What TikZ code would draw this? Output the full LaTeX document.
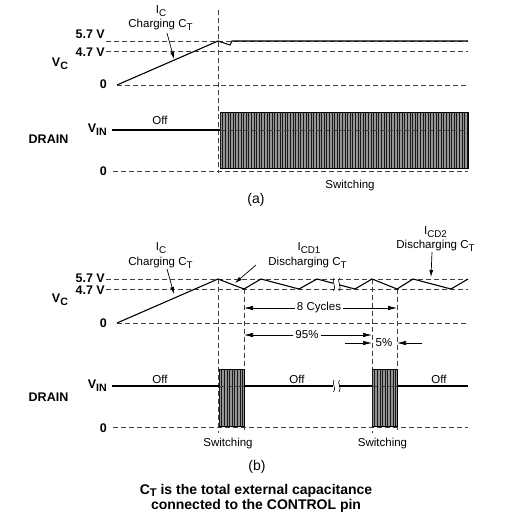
\documentclass[tikz,border=0pt]{standalone}
\usepackage{fontspec}
\setmainfont{Liberation Sans}
\usepackage{graphicx}
\usetikzlibrary{arrows.meta}
\newcommand{\lsub}[1]{\raisebox{-0.45ex}{\scalebox{0.85}{#1}}}
\newcommand{\csub}[1]{\raisebox{-0.3ex}{\scalebox{0.8}{#1}}}
\begin{document}
\begin{tikzpicture}[x=1pt,y=-1pt,
  lbl/.style={font=\fontsize{11.5}{13}\selectfont, inner sep=0pt},
  blbl/.style={font=\bfseries\fontsize{12.5}{14}\selectfont, inner sep=0pt},
  biglbl/.style={font=\fontsize{14}{15}\selectfont, inner sep=0pt},
  captlbl/.style={font=\bfseries\fontsize{14}{15}\selectfont, inner sep=0pt},
  dsh/.style={dash pattern=on 5pt off 3pt, line width=0.7pt, black!75},
  sig/.style={line width=1.1pt, black, line join=miter},
  arr/.style={-{Latex[length=7pt,width=4pt]}, line width=0.7pt},
  darr/.style={-{Latex[length=9pt,width=4.5pt]}, line width=0.7pt},
  brk/.style={line width=0.6pt},
  blk/.style={fill=black!42, draw=black, line width=0.5pt},
  vln/.style={line width=0.45pt, black!90}]
\useasboundingbox (0,0) rectangle (532,517);

% ================= (a) =================
\draw[dsh] (106,41) -- (468,41);
\draw[dsh] (106,51) -- (468,51);
\draw[dsh] (117,85) -- (468,85);
\draw[dsh] (113,171) -- (468,171);
\draw[dsh] (218,10) -- (218,173);

\coordinate (a0) at (117,85);
\coordinate (apk) at (218,41);
\draw[sig] (a0) -- (apk) -- (230,45) -- (232,41) -- (468,41);

% drain (a)
\coordinate (avs) at (112,130);
\coordinate (ave) at (220,130);
\draw[sig] (avs) -- (ave);
\draw[blk] (220,112) rectangle (468,168);
\foreach \x in {220,222.6,...,468} \draw[vln] (\x,112) -- (\x,168);
\draw[dsh] (220,130) -- (468,130);

\node[blbl, anchor=east] (a57) at (105,34.5) {5.7 V};
\node[blbl, anchor=east] (a47) at (105,52.5) {4.7 V};
\node[blbl] (avc) at (60,64) {V\lsub{C}};
\node[blbl, anchor=east] (azero) at (107,84.5) {0};
\node[blbl, anchor=east] (avin) at (107,130) {V\lsub{IN}};
\node[blbl] (adrain) at (48.5,139) {DRAIN};
\node[blbl, anchor=east] (azerod) at (107,171.5) {0};
\node[lbl] (aic) at (161,11) {I\lsub{C}};
\node[lbl] (ach) at (160.5,25) {Charging C\lsub{T}};
\coordinate (atail) at (167,33);
\coordinate (atip) at (174,59);
\draw[arr] (atail) -- (atip);
\node[lbl] (aoff) at (160,120) {Off};
\node[lbl] (asw) at (350,186) {Switching};
\node[biglbl] (alab) at (256,200) {(a)};

% ================= (b) =================
\draw[dsh] (106,279) -- (468,279);
\draw[dsh] (106,289) -- (468,289);
\draw[dsh] (117,323) -- (468,323);
\draw[dsh] (113,427) -- (468,427);
\draw[dsh] (218,279) -- (218,433);
\draw[dsh] (244,289) -- (244,433);
\draw[dsh] (372,279) -- (372,433);
\draw[dsh] (397,289) -- (397,433);

\draw[sig] (117,323) -- (218,279) -- (244,289) -- (261,279) -- (299,289) -- (317,279) -- (333,283.2);
\draw[sig] (339,284.8) -- (355,289) -- (372,279) -- (397,289) -- (413,279) -- (451,289) -- (468,279);
\draw[brk] (334,278) .. controls (331,282) and (337,286) .. (333.5,291);
\draw[brk] (339.5,278) .. controls (336.5,282) and (342.5,286) .. (339,291);

% drain (b)
\draw[sig] (112,386) -- (219,386);
\draw[sig] (244,386) -- (333,386);
\draw[sig] (339,386) -- (372,386);
\draw[sig] (397,386) -- (468,386);
\draw[brk] (334,380) .. controls (331,383) and (337,388) .. (333.5,392);
\draw[brk] (339.5,380) .. controls (336.5,383) and (342.5,388) .. (339,392);

\draw[blk] (219,369) rectangle (244,426);
\foreach \x in {219,221.6,...,244} \draw[vln] (\x,369) -- (\x,426);
\draw[dsh] (219,386) -- (244,386);
\draw[blk] (372,369) rectangle (397,426);
\foreach \x in {372,374.6,...,397} \draw[vln] (\x,369) -- (\x,426);
\draw[dsh] (372,386) -- (397,386);

\node[blbl, anchor=east] (b57) at (105,278) {5.7 V};
\node[blbl, anchor=east] (b47) at (105,290) {4.7 V};
\node[blbl] (bvc) at (60,300) {V\lsub{C}};
\node[blbl, anchor=east] (bzero) at (107,323) {0};
\node[blbl, anchor=east] (bvin) at (107,386) {V\lsub{IN}};
\node[blbl] (bdrain) at (48.5,397) {DRAIN};
\node[blbl, anchor=east] (bzerod) at (107,428) {0};

\node[lbl] (bic) at (161,248) {I\lsub{C}};
\node[lbl] (bch) at (160.5,262.5) {Charging C\lsub{T}};
\coordinate (btail) at (167,269);
\coordinate (btip) at (174,294);
\draw[arr] (btail) -- (btip);

\node[lbl] (bicd1) at (309,248) {I\lsub{CD1}};
\node[lbl] (bdis1) at (307.5,262.5) {Discharging C\lsub{T}};
\coordinate (d1tail) at (256,265);
\coordinate (d1tip) at (235,283);
\draw[arr] (d1tail) -- (d1tip);

\node[lbl] (bicd2) at (435.5,232) {I\lsub{CD2}};
\node[lbl] (bdis2) at (435.5,245.5) {Discharging C\lsub{T}};
\coordinate (d2tail) at (432,252);
\coordinate (d2tip) at (431,277);
\draw[arr] (d2tail) -- (d2tip);

\node[lbl] (cyc) at (319,308) {8 Cycles};
\coordinate (cycl) at (244,308);
\coordinate (cycr) at (397,308);
\draw[darr] ([xshift=-2pt]cyc.west) -- (cycl);
\draw[darr] ([xshift=2pt]cyc.east) -- (cycr);

\node[lbl] (p95) at (307,335) {95\%};
\coordinate (p95l) at (244,335);
\coordinate (p95r) at (372,335);
\draw[darr] ([xshift=-2pt]p95.west) -- (p95l);
\draw[darr] ([xshift=2pt]p95.east) -- (p95r);

\node[lbl] (p5) at (384,343) {5\%};
\coordinate (p5ls) at (345,343);
\coordinate (p5lt) at (372,343);
\coordinate (p5rs) at (422,343);
\coordinate (p5rt) at (397,343);
\draw[darr] (p5ls) -- (p5lt);
\draw[darr] (p5rs) -- (p5rt);

\node[lbl] (boff1) at (160,379) {Off};
\node[lbl] (boff2) at (297,379) {Off};
\node[lbl] (boff3) at (439,379) {Off};
\node[lbl] (bsw1) at (228,444) {Switching};
\node[lbl] (bsw2) at (382.5,444) {Switching};
\node[biglbl] (blab) at (257,467) {(b)};

\node[captlbl, anchor=base] (capt1) at (256,494) {C\csub{T} is the total external capacitance};
\node[captlbl, anchor=base] (capt2) at (256,509) {connected to the CONTROL pin};
\end{tikzpicture}
\end{document}
